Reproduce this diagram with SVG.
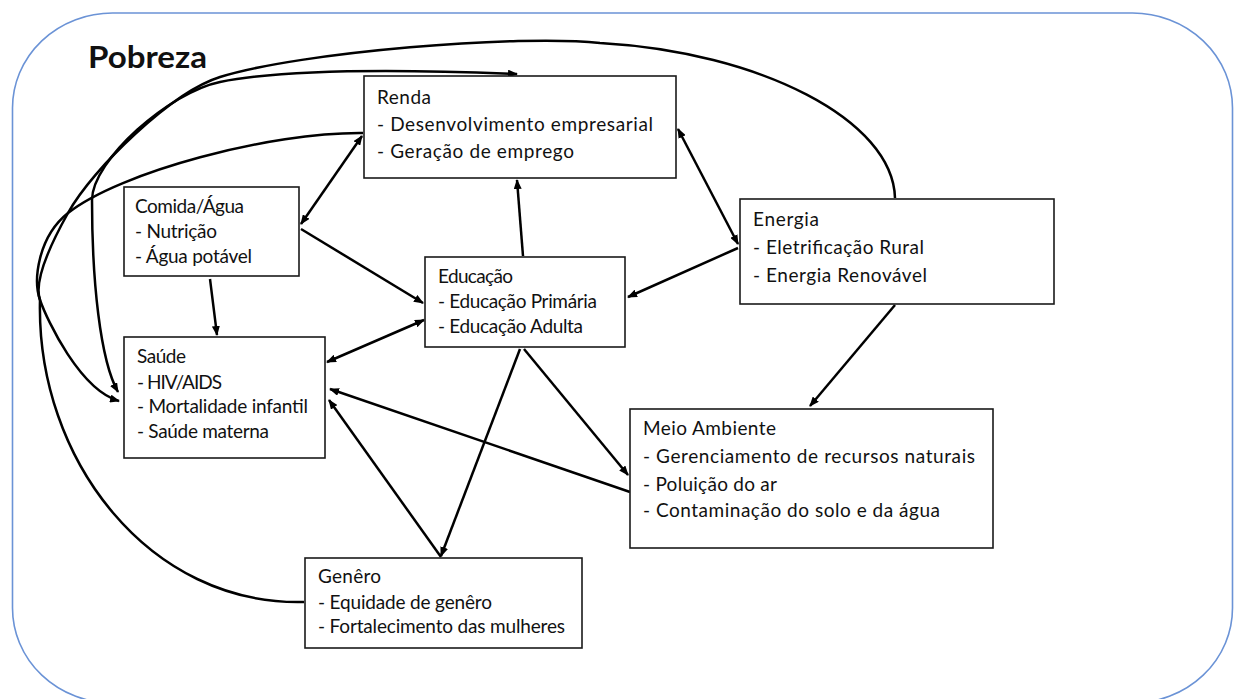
<svg xmlns="http://www.w3.org/2000/svg" width="1235" height="699" viewBox="0 0 1235 699">
<defs>
<marker id="ah" viewBox="0 0 10 8" markerWidth="10" markerHeight="8" refX="9" refY="4" orient="auto-start-reverse" markerUnits="userSpaceOnUse">
<path d="M0,0 L10,4 L0,8 z" fill="#000"/>
</marker>
<style>
.box{fill:#fff;stroke:#1a1a1a;stroke-width:1.6}
.t{font-family:Lato,"Liberation Sans",sans-serif;font-size:19px;fill:#111}
.title{font-family:Lato,"Liberation Sans",sans-serif;font-size:31px;font-weight:bold;fill:#111}
.c{fill:none;stroke:#000;stroke-width:2.5}
.e{marker-end:url(#ah)}
.b{marker-start:url(#ah);marker-end:url(#ah)}
</style>
</defs>
<rect width="1235" height="699" fill="#fff"/>
<rect id="frame" x="12.5" y="13" width="1220" height="690" rx="100" ry="95" fill="none" stroke="#6b93d6" stroke-width="1.6"/>
<text class="title" x="88" y="68" textLength="119" lengthAdjust="spacingAndGlyphs">Pobreza</text>

<g id="connectors">
<path class="c" d="M895,198 C893,120 760,52 600,43 C520,34 300,52 220,77 C172,92 93,168 68,213 C54,238 33,280 40,300 C36,460 150,606 304,602"/>
<path class="c b" d="M517,74 C420,70 290,68 220,82 C170,92 92,160 92,200 C92,280 100,360 118,392"/>
<path class="c e" d="M363,133 C270,132 120,172 68,213 C38,237 33,280 40,300 C47,320 80,390 119,401"/>
<line class="c b" x1="301" y1="224" x2="362" y2="136"/>
<line class="c e" x1="301" y1="229" x2="423" y2="303"/>
<line class="c e" x1="210" y1="279" x2="217" y2="335"/>
<line class="c e" x1="523" y1="256" x2="517" y2="180"/>
<line class="c b" x1="678" y1="129" x2="738" y2="244"/>
<line class="c e" x1="738" y1="248" x2="628" y2="297"/>
<line class="c b" x1="424" y1="320" x2="327" y2="362"/>
<line class="c e" x1="520" y1="349" x2="441" y2="556"/>
<line class="c e" x1="524" y1="349" x2="628" y2="475"/>
<line class="c e" x1="630" y1="492" x2="330" y2="389"/>
<line class="c e" x1="441" y1="557" x2="329" y2="400"/>
<line class="c e" x1="895" y1="305" x2="810" y2="406"/>
</g>

<g id="renda">
<rect class="box" x="364" y="76" width="312" height="102"/>
<text class="t" x="377" y="104" textLength="54">Renda</text>
<text class="t" x="377" y="131" textLength="276">- Desenvolvimento empresarial</text>
<text class="t" x="377" y="158" textLength="197">- Geração de emprego</text>
</g>
<g id="comida">
<rect class="box" x="124" y="187" width="175" height="89"/>
<text class="t" x="135" y="213" textLength="109">Comida/Água</text>
<text class="t" x="135" y="238" textLength="82">- Nutrição</text>
<text class="t" x="135" y="263" textLength="117">- Água potável</text>
</g>
<g id="educacao">
<rect class="box" x="425" y="257" width="200" height="90"/>
<text class="t" x="438" y="283" textLength="75">Educação</text>
<text class="t" x="438" y="308" textLength="159">- Educação Primária</text>
<text class="t" x="438" y="333" textLength="145">- Educação Adulta</text>
</g>
<g id="energia">
<rect class="box" x="740" y="199" width="314" height="105"/>
<text class="t" x="753" y="226" textLength="66">Energia</text>
<text class="t" x="753" y="254" textLength="171">- Eletrificação Rural</text>
<text class="t" x="753" y="282" textLength="174">- Energia Renovável</text>
</g>
<g id="saude">
<rect class="box" x="124" y="337" width="201" height="121"/>
<text class="t" x="137" y="363" textLength="49">Saúde</text>
<text class="t" x="137" y="389" textLength="85">- HIV/AIDS</text>
<text class="t" x="137" y="413" textLength="171">- Mortalidade infantil</text>
<text class="t" x="137" y="438" textLength="132">- Saúde materna</text>
</g>
<g id="meio">
<rect class="box" x="630" y="409" width="363" height="139"/>
<text class="t" x="643" y="435" textLength="133">Meio Ambiente</text>
<text class="t" x="643" y="463" textLength="332">- Gerenciamento de recursos naturais</text>
<text class="t" x="643" y="491" textLength="134">- Poluição do ar</text>
<text class="t" x="643" y="517" textLength="297">- Contaminação do solo e da água</text>
</g>
<g id="genero">
<rect class="box" x="305" y="558" width="277" height="90"/>
<text class="t" x="318" y="583" textLength="63">Genêro</text>
<text class="t" x="318" y="609" textLength="174">- Equidade de genêro</text>
<text class="t" x="318" y="633" textLength="247">- Fortalecimento das mulheres</text>
</g>
</svg>
